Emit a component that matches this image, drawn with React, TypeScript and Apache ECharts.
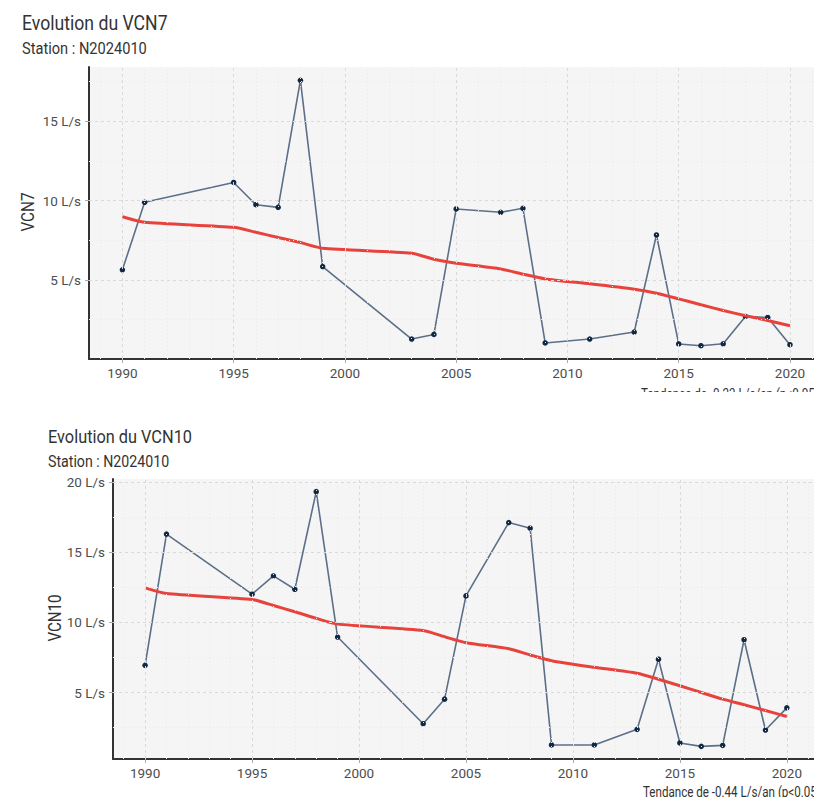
import React, { useEffect, useRef } from "react";
import * as echarts from "echarts";

const years = [1990, 1991, 1995, 1996, 1997, 1998, 1999, 2003, 2004, 2005, 2007, 2008, 2009, 2011, 2013, 2014, 2015, 2016, 2017, 2018, 2019, 2020];
const vcn7 = [5.63, 9.89, 11.14, 9.74, 9.57, 17.58, 5.84, 1.27, 1.56, 9.47, 9.26, 9.51, 1.02, 1.27, 1.71, 7.83, 0.96, 0.85, 0.97, 2.69, 2.63, 0.91];
const trend7 = [8.98, 8.63, 8.31, 8.0, 7.67, 7.35, 6.99, 6.68, 6.3, 6.05, 5.69, 5.36, 5.06, 4.75, 4.41, 4.16, 3.8, 3.43, 3.07, 2.74, 2.44, 2.11];
const vcn10 = [6.94, 16.28, 12.0, 13.3, 12.35, 19.3, 8.95, 2.78, 4.53, 11.88, 17.1, 16.7, 1.27, 1.27, 2.38, 7.37, 1.41, 1.17, 1.24, 8.76, 2.33, 3.91];
const trend10 = [12.45, 12.05, 11.62, 11.2, 10.75, 10.28, 9.87, 9.42, 8.97, 8.55, 8.12, 7.67, 7.27, 6.8, 6.37, 5.95, 5.48, 5.0, 4.53, 4.13, 3.72, 3.3];

const xTicks = [1990, 1995, 2000, 2005, 2010, 2015, 2020];
const xMinor = [1989, 1991, 1992, 1993, 1994, 1996, 1997, 1998, 1999, 2001, 2002, 2003, 2004, 2006, 2007, 2008, 2009, 2011, 2012, 2013, 2014, 2016, 2017, 2018, 2019, 2021];
const yTicks7 = [5, 10, 15];
const yMinor7 = [2.5, 7.5, 12.5, 17.5];
const yTicks10 = [5, 10, 15, 20];
const yMinor10 = [2.5, 7.5, 12.5, 17.5];

const FONT = "Roboto, 'Noto Sans', sans-serif";
const MAJOR = { color: "#dadada", width: 1, type: [3, 3] as any };
const MINOR = { color: "#e8e8e8", width: 1, type: [1, 3] as any };

function gridLines(xMaj: number[], xMin: number[], yMaj: number[], yMin: number[]) {
  return [
    ...xMin.map((v) => ({ xAxis: v, lineStyle: MINOR })),
    ...yMin.map((v) => ({ yAxis: v, lineStyle: MINOR })),
    ...xMaj.map((v) => ({ xAxis: v, lineStyle: MAJOR })),
    ...yMaj.map((v) => ({ yAxis: v, lineStyle: MAJOR })),
  ];
}

function xAxisCfg(gridIndex: number, max: number) {
  return {
    type: "value",
    gridIndex,
    min: 1988.5,
    max,
    axisLine: { show: true, onZero: false, lineStyle: { color: "#333", width: 2 } },
    axisTick: { show: true, customValues: xTicks, length: 4, lineStyle: { color: "#aaa" } },
    axisLabel: {
      customValues: xTicks,
      fontSize: 13.5,
      color: "#4d4d4d",
      margin: 7,
      fontFamily: FONT,
      formatter: (v: number) => String(v),
    },
    splitLine: { show: false },
  };
}

function yAxisCfg(gridIndex: number, min: number, max: number, ticks: number[]) {
  return {
    type: "value",
    gridIndex,
    min,
    max,
    axisLine: { show: true, onZero: false, lineStyle: { color: "#333", width: 2 } },
    axisTick: { show: true, customValues: ticks, length: 4, lineStyle: { color: "#aaa" } },
    axisLabel: {
      customValues: ticks,
      fontSize: 13.5,
      color: "#4d4d4d",
      margin: 8,
      fontFamily: FONT,
      formatter: (v: number) => `${v} L/s`,
    },
    splitLine: { show: false },
  };
}

function seriesFor(idx: number, values: number[], trend: number[], lines: any[]) {
  const pts = years.map((y, i) => [y, values[i]]);
  const tr = years.map((y, i) => [y, trend[i]]);
  return [
    {
      type: "line",
      xAxisIndex: idx,
      yAxisIndex: idx,
      data: pts,
      z: 1,
      showSymbol: false,
      lineStyle: { opacity: 0, width: 0 },
      silent: true,
      markLine: { silent: true, symbol: ["none", "none"], label: { show: false }, data: lines, animation: false },
    },
    {
      type: "line",
      xAxisIndex: idx,
      yAxisIndex: idx,
      data: pts,
      z: 3,
      symbol: "circle",
      symbolSize: 5.5,
      itemStyle: { color: "#102844", borderWidth: 0 },
      lineStyle: { color: "#5c6f88", width: 1.6 },
    },
    {
      type: "line",
      xAxisIndex: idx,
      yAxisIndex: idx,
      data: tr,
      z: 4,
      showSymbol: false,
      smooth: 0.2,
      lineStyle: { color: "#e8423d", width: 3 },
    },
  ];
}

function txt(text: string, x: number, y: number, size: number, sx: number, fill = "#333", extra: any = {}) {
  return {
    type: "text",
    x,
    y,
    scaleX: sx,
    z: 10,
    ...extra,
    style: { text, fontSize: size, fontFamily: FONT, fill, verticalAlign: "middle", align: "left", ...(extra.style || {}) },
  };
}

export default function App() {
  const ref = useRef<HTMLDivElement>(null);
  useEffect(() => {
    if (!ref.current) return;
    const chart = echarts.init(ref.current, undefined, { renderer: "svg" });
    chart.setOption({
      animation: false,
      backgroundColor: "#ffffff",
      grid: [
        { left: 89, top: 67, right: 0, height: 292, show: true, backgroundColor: "#f5f5f5", borderWidth: 0 },
        { left: 113, top: 479, right: 0, height: 280, show: true, backgroundColor: "#f5f5f5", borderWidth: 0 },
      ],
      xAxis: [xAxisCfg(0, 2021.08), xAxisCfg(1, 2021.27)],
      yAxis: [yAxisCfg(0, 0.01, 18.42, yTicks7), yAxisCfg(1, 0.27, 20.2, yTicks10)],
      series: [
        ...seriesFor(0, vcn7, trend7, gridLines(xTicks, xMinor, yTicks7, yMinor7)),
        ...seriesFor(1, vcn10, trend10, gridLines(xTicks, xMinor, yTicks10, yMinor10)),
      ],
      graphic: [
        txt("Evolution du VCN7", 22, 22.5, 21, 0.84),
        txt("Station : N2024010", 22, 48, 17, 0.86),
        txt("VCN7", 28.5, 212, 18, 0.85, "#333", { rotation: Math.PI / 2, style: { align: "center" } }),
        txt("Tendance de -0.23 L/s/an (p<0.05)", 641, 394.5, 14.5, 0.8, "#333"),
        { type: "rect", z: 20, shape: { x: 0, y: 392, width: 814, height: 30 }, style: { fill: "#ffffff" } },
        txt("Evolution du VCN10", 48, 436.7, 19, 0.86),
        txt("Station : N2024010", 48, 461.3, 16.5, 0.86),
        txt("VCN10", 55, 618, 18, 0.84, "#333", { rotation: Math.PI / 2, style: { align: "center" } }),
        txt("Tendance de -0.44 L/s/an (p<0.05)", 643, 792, 14.5, 0.8, "#333"),
      ],
    });
    return () => chart.dispose();
  }, []);
  return <div ref={ref} style={{ position: "absolute", left: 0, top: 0, width: 814, height: 797 }} />;
}
